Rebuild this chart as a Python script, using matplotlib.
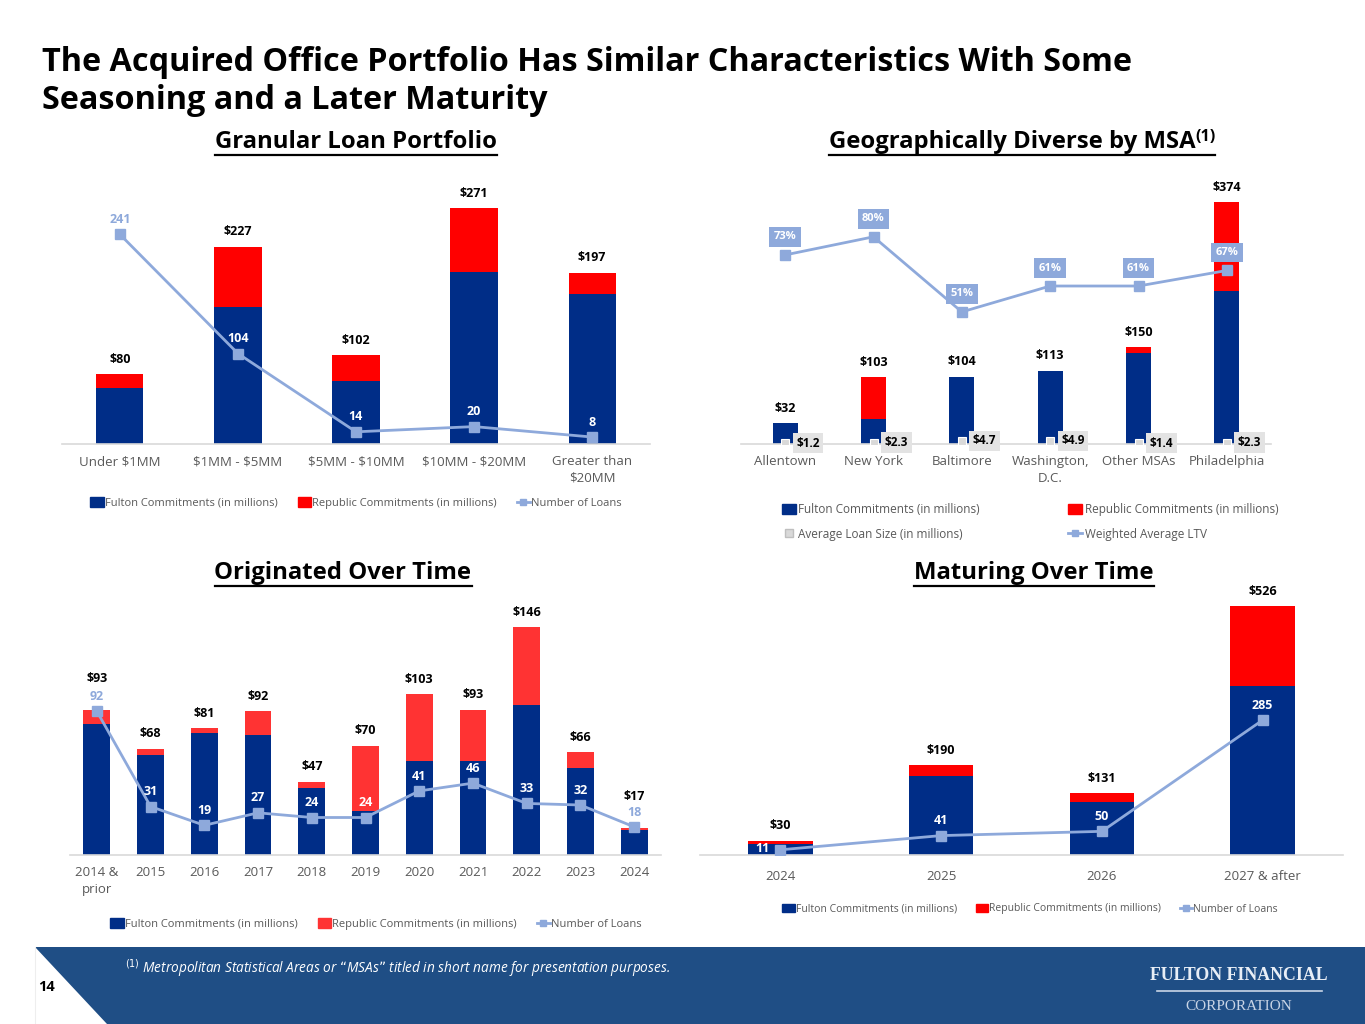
import numpy as np
import matplotlib
matplotlib.use("Agg")
import matplotlib.pyplot as plt
from matplotlib.patches import Polygon, Patch
from matplotlib.lines import Line2D

plt.rcParams['font.family'] = ['Open Sans', 'DejaVu Sans']

# --- data -------------------------------------------------------------
size_cats = ['Under $1MM', '$1MM - $5MM', '$5MM - $10MM', '$10MM - $20MM', 'Greater than\n$20MM']
size_fulton = [64, 158, 72, 198, 172]
size_republic = [16, 69, 30, 73, 25]
size_loans = [241, 104, 14, 20, 8]

msa_cats = ['Allentown', 'New York', 'Baltimore', 'Washington,\nD.C.', 'Other MSAs', 'Philadelphia']
msa_fulton = [32, 38, 104, 113, 140, 237]
msa_republic = [0, 65, 0, 0, 10, 137]
msa_avg_size = [1.2, 2.3, 4.7, 4.9, 1.4, 2.3]
msa_ltv = [73, 80, 51, 61, 61, 67]

orig_cats = ['2014 &\nprior', '2015', '2016', '2017', '2018', '2019', '2020', '2021', '2022', '2023', '2024']
orig_fulton = [84, 64, 78, 77, 43, 28, 60, 60, 96, 56, 16]
orig_republic = [9, 4, 3, 15, 4, 42, 43, 33, 50, 10, 1]
orig_loans = [92, 31, 19, 27, 24, 24, 41, 46, 33, 32, 18]

mat_cats = ['2024', '2025', '2026', '2027 & after']
mat_fulton = [24, 168, 112, 357]
mat_republic = [6, 22, 19, 169]
mat_loans = [11, 41, 50, 285]

NAVY = '#002D87'
RED = '#FF0000'
RED2 = '#FF3333'
LBLUE = '#8EA9DB'
GRAY = '#595959'

W, H = 1365, 1024
fig = plt.figure(figsize=(W / 100, H / 100), dpi=100)


def px_axes(x0, y_top, x1, y_bot):
    return fig.add_axes([x0 / W, 1 - y_bot / H, (x1 - x0) / W, (y_bot - y_top) / H])


def style(ax, cats, fs=9.5, pad=8):
    for s in ['top', 'right', 'left']:
        ax.spines[s].set_visible(False)
    ax.spines['bottom'].set_color('#D9D9D9')
    ax.spines['bottom'].set_linewidth(1.2)
    ax.set_yticks([])
    ax.set_xticks(range(len(cats)))
    ax.set_xticklabels([c.replace('$', r'\$') for c in cats], fontsize=fs, color=GRAY, linespacing=1.35)
    ax.tick_params(axis='x', length=0, pad=pad)
    ax.set_facecolor('none')


def stacked(ax, fulton, republic, width, red=RED, raised=()):
    x = np.arange(len(fulton))
    f = np.array(fulton)
    r = np.array(republic)
    ax.bar(x, f, width, color=NAVY, zorder=2)
    ax.bar(x, r, width, bottom=f, color=red, zorder=2)
    for xi, t in zip(x, f + r):
        off = 18 if xi in raised else 6
        ax.annotate(f'${t}', (xi, t), xytext=(0, off), textcoords='offset points',
                    ha='center', va='bottom', fontsize=9, fontweight='bold', color='black')


def loans_line(ax, loans, ylim, outside=(), left=()):
    ax2 = ax.twinx()
    ax2.set_ylim(ylim)
    ax2.axis('off')
    x = np.arange(len(loans))
    ax2.plot(x, loans, color=LBLUE, lw=2, marker='s', ms=7, zorder=3)
    for i, v in enumerate(loans):
        col = LBLUE if i in outside else 'white'
        if i in left:
            ax2.annotate(str(v), (i, v), xytext=(-13, 1), textcoords='offset points',
                         ha='center', va='center', fontsize=9, fontweight='bold', color=col)
        else:
            ax2.annotate(str(v), (i, v), xytext=(0, 6), textcoords='offset points',
                         ha='center', va='bottom', fontsize=9, fontweight='bold', color=col)
    return ax2


def loans_handles(red=RED):
    return [Patch(color=NAVY, label='Fulton Commitments (in millions)'),
            Patch(color=red, label='Republic Commitments (in millions)'),
            Line2D([], [], color=LBLUE, lw=2, marker='s', ms=5, label='Number of Loans')]


# --- title ------------------------------------------------------------
fig.text(42 / W, 1 - 46 / H, 'The Acquired Office Portfolio Has Similar Characteristics With Some\n'
         'Seasoning and a Later Maturity', fontsize=23.3, fontweight='bold', va='top', ha='left',
         linespacing=1.2)


def underlined(x, y, s, sup=None):
    t = fig.text(x / W, 1 - y / H, s, fontsize=17.2, fontweight='bold', ha='center', va='center')
    fig.canvas.draw()
    bb = t.get_window_extent()
    x0, x1 = bb.x0, bb.x1
    if sup:
        t2 = fig.text(bb.x1 / W, (bb.y1 + 1) / H, sup, fontsize=11.5, fontweight='bold', ha='left', va='top')
        x1 = t2.get_window_extent().x1
        shift = (x1 - bb.x1) / 2
        t.set_position(((bb.x0 + bb.x1) / 2 / W - shift / W, 1 - y / H))
        t2.set_position(((bb.x1 - shift) / W, (bb.y1 + 1) / H))
        x0 -= shift
        x1 -= shift
    yl = bb.y0 - 1
    fig.add_artist(Line2D([x0 / W, x1 / W], [yl / H, yl / H], color='black', lw=1.6))


underlined(356, 142, 'Granular Loan Portfolio')
underlined(1022, 142, 'Geographically Diverse by MSA', sup='(1)')
underlined(343, 573, 'Originated Over Time')
underlined(1034, 573, 'Maturing Over Time')

# --- chart 1: granular -----------------------------------------------
ax1 = px_axes(62, 183, 650, 444)
ax1.set_xlim(-0.49, 4.49)
ax1.set_ylim(0, 300)
stacked(ax1, size_fulton, size_republic, 0.4)
style(ax1, size_cats)
loans_line(ax1, size_loans, (0, 300), outside=(0,))
fig.legend(handles=loans_handles(), loc='center', bbox_to_anchor=(356 / W, 1 - 503 / H), ncol=3,
           frameon=False, fontsize=8, handlelength=1.2, handleheight=0.9, handletextpad=0.1,
           columnspacing=1.8, labelcolor=GRAY)

# --- chart 2: MSA -----------------------------------------------------
ax2 = px_axes(741, 185, 1271, 444)
ax2.set_xlim(-0.5, 5.5)
ax2.set_ylim(0, 400)
stacked(ax2, msa_fulton, msa_republic, 0.28)
style(ax2, msa_cats)
xs = np.arange(len(msa_cats))
ax2.plot(xs, msa_avg_size, ls='none', marker='s', ms=6, color='#D9D9D9', mec='white', mew=0.8, zorder=4)
for i, v in enumerate(msa_avg_size):
    ax2.annotate(f'${v}', (i, v), xytext=(8, 0), textcoords='offset points', ha='left', va='center',
                 fontsize=8.5, fontweight='bold', color='black', zorder=5,
                 bbox=dict(boxstyle='square,pad=0.3', fc='#E3E3E3', ec='none'))
ax2b = ax2.twinx()
ax2b.set_ylim(0, 100)
ax2b.axis('off')
ax2b.plot(xs, msa_ltv, color=LBLUE, lw=2, marker='s', ms=7, zorder=3)
for i, v in enumerate(msa_ltv):
    ax2b.annotate(f'{v}%', (i, v), xytext=(0, 9), textcoords='offset points', ha='center', va='bottom',
                  fontsize=8, fontweight='bold', color='white',
                  bbox=dict(boxstyle='square,pad=0.4', fc=LBLUE, ec='none'))
h2 = [Patch(color=NAVY, label='Fulton Commitments (in millions)'),
      Line2D([], [], ls='none', marker='s', ms=6, color='#D9D9D9', mec='#BFBFBF', label='Average Loan Size (in millions)'),
      Patch(color=RED, label='Republic Commitments (in millions)'),
      Line2D([], [], color=LBLUE, lw=2, marker='s', ms=5, label='Weighted Average LTV')]
fig.legend(handles=h2, loc='center', bbox_to_anchor=(1030 / W, 1 - 522 / H), ncol=2,
           frameon=False, fontsize=8.5, handlelength=1.2, handleheight=0.9, handletextpad=0.2,
           columnspacing=7.5, labelspacing=1.0, labelcolor=GRAY)

# --- chart 3: originated ---------------------------------------------
ax3 = px_axes(70, 605, 661, 855)
ax3.set_xlim(-0.5, 10.5)
ax3.set_ylim(0, 160)
stacked(ax3, orig_fulton, orig_republic, 0.5, red=RED2, raised=(0, 10))
style(ax3, orig_cats)
loans_line(ax3, orig_loans, (0, 160), outside=(0, 10))
fig.legend(handles=loans_handles(RED2), loc='center', bbox_to_anchor=(376 / W, 1 - 924 / H), ncol=3,
           frameon=False, fontsize=8, handlelength=1.2, handleheight=0.9, handletextpad=0.1,
           columnspacing=1.8, labelcolor=GRAY)

# --- chart 4: maturing -----------------------------------------------
ax4 = px_axes(700, 590, 1343, 855)
ax4.set_xlim(-0.5, 3.5)
ax4.set_ylim(0, 560)
stacked(ax4, mat_fulton, mat_republic, 0.4)
style(ax4, mat_cats, fs=9.5, pad=11)
loans_line(ax4, mat_loans, (0, 560), left=(0,))
fig.legend(handles=loans_handles(), loc='center', bbox_to_anchor=(1030 / W, 1 - 909 / H), ncol=3,
           frameon=False, fontsize=7.5, handlelength=1.2, handleheight=0.9, handletextpad=0.1,
           columnspacing=1.8, labelcolor=GRAY)

# --- footer band ------------------------------------------------------
band = Polygon([[35 / W, 1 - 947 / H], [1, 1 - 947 / H], [1, 0], [107 / W, 0]],
               closed=True, transform=fig.transFigure, fc='#1F4E85', ec='none')
fig.add_artist(band)
fig.add_artist(Line2D([35 / W, 35 / W], [0, 1 - 947 / H], color='#EEEEEE', lw=0.8))
fig.text(38 / W, 1 - 987 / H, '14', fontsize=10.5, fontweight='bold', va='center', ha='left')
fig.text(125 / W, 1 - 968 / H, '$^{(1)}$ Metropolitan Statistical Areas or \u201cMSAs\u201d titled in short name for presentation purposes.',
         fontsize=9.8, style='italic', color='white', va='center', ha='left')
fig.text(1239 / W, 1 - 975 / H, 'FULTON FINANCIAL', fontsize=12.8, family='Liberation Serif',
         fontweight='bold', color='#E8EEF6', va='center', ha='center')
fig.add_artist(Line2D([1157 / W, 1322 / W], [1 - 991 / H, 1 - 991 / H], color='#C9D5E6', lw=1.2))
fig.text(1239 / W, 1 - 1006 / H, 'CORPORATION', fontsize=11, family='Liberation Serif',
         color='#C9D5E6', va='center', ha='center')

fig.savefig('out.png', dpi=100)
